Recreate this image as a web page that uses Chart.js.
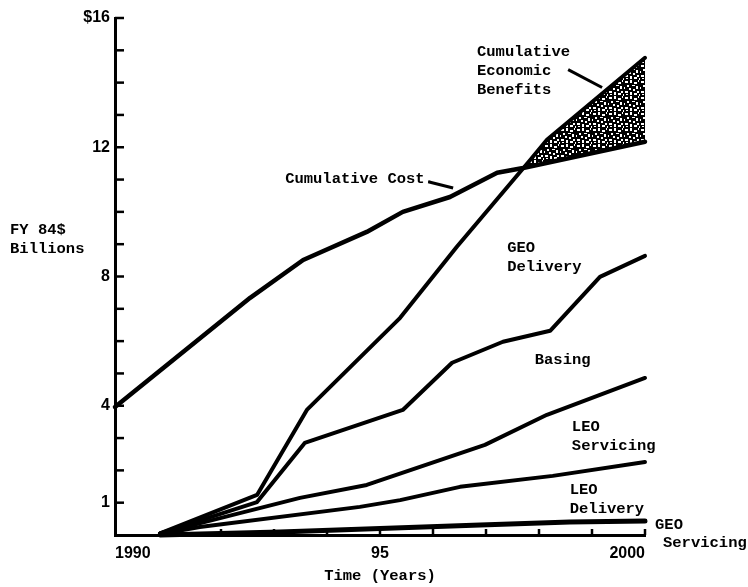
<!DOCTYPE html>
<html>
<head>
<meta charset="utf-8">
<script src="https://cdn.jsdelivr.net/npm/chart.js@4.4.0/dist/chart.umd.min.js"></script>
<style>
html, body { margin: 0; padding: 0; background: #fff; }
</style>
</head>
<body>
<canvas id="grafico" width="748" height="587"></canvas>
<script>
// valores: anos no eixo x, FY 84$ bilhoes no eixo y
var costYears     = [1990, 1992.55, 1993.55, 1994.75, 1995.43, 1996.32, 1997.21, 1997.7, 2000];
var costValues    = [3.96, 7.34, 8.51, 9.38, 10.0, 10.46, 11.21, 11.36, 12.17];

var benefitYears  = [1990.85, 1992.68, 1993.62, 1995.38, 1996.45, 1997.83, 1998.15, 2000];
var benefitValues = [0.05, 1.24, 3.87, 6.72, 8.92, 11.6, 12.23, 14.77];

var geoDelYears   = [1990.85, 1992.68, 1993.58, 1995.43, 1996.36, 1997.32, 1998.21, 1999.15, 2000];
var geoDelValues  = [0.05, 1.02, 2.85, 3.87, 5.33, 5.98, 6.32, 7.99, 8.64];

var basingYears   = [1990.85, 1993.49, 1994.75, 1996.98, 1998.15, 2000];
var basingValues  = [0.05, 1.15, 1.55, 2.79, 3.72, 4.86];

var leoSrvYears   = [1990.85, 1991.6, 1994.62, 1995.38, 1996.51, 1998.26, 2000];
var leoSrvValues  = [0.03, 0.25, 0.87, 1.08, 1.49, 1.83, 2.26];

var geoSrvYears   = [1990.85, 1993.11, 1996.89, 1998.58, 2000];
var geoSrvValues  = [0.0, 0.09, 0.31, 0.40, 0.43];

var xTickYears  = [1990, 1991, 1992, 1993, 1994, 1995, 1996, 1997, 1998, 1999, 2000];
var xTickLabels = {1990: '1990', 1995: '95', 2000: '2000'};
var yTickLabels = {1: '1', 4: '4', 8: '8', 12: '12', 16: '$16'};

// textos da figura (posicao em coordenadas de dados)
var rotulos = [
  {txt: ['Cumulative Cost.'], x: 1993.21, y: 11.02},
  {txt: ['Cumulative', 'Economic', 'Benefits'], x: 1996.83, y: 14.95},
  {txt: ['GEO', 'Delivery'], x: 1997.4, y: 8.89},
  {txt: ['Basing'], x: 1997.92, y: 5.42},
  {txt: ['LEO', 'Servicing'], x: 1998.62, y: 3.34},
  {txt: ['LEO', 'Delivery'], x: 1998.58, y: 1.39},
  {txt: ['GEO'], x: 2000.19, y: 0.31},
  {txt: ['Servicing'], x: 2000.34, y: -0.25},
  {txt: ['FY 84$', 'Billions'], x: 1988.02, y: 9.44}
];
var setas = [
  [1998.55, 14.4, 1999.19, 13.85],
  [1995.91, 10.93, 1996.38, 10.74]
];

function pontos(xs, ys) {
  var p = [];
  for (var i = 0; i < xs.length; i++) p.push({x: xs[i], y: ys[i]});
  return p;
}

var canvas = document.getElementById('grafico');
var ctx = canvas.getContext('2d');

// textura pontilhada da area de beneficios
function pontilhado() {
  var c = document.createElement('canvas');
  c.width = 16; c.height = 16;
  var g = c.getContext('2d');
  g.fillStyle = '#000';
  g.fillRect(0, 0, 16, 16);
  g.fillStyle = '#fff';
  var manchas = [
    [1,1,3,2],[6,0,2,3],[10,2,3,2],[14,0,1,2],
    [3,5,2,2],[8,5,3,1],[12,6,2,3],[0,7,1,2],
    [5,8,2,2],[9,9,2,2],[1,11,3,2],[13,11,2,2],
    [6,12,2,3],[10,13,3,2],[2,14,2,1],[15,14,1,2]
  ];
  manchas.forEach(function (m) { g.fillRect(m[0], m[1], m[2], m[3]); });
  return ctx.createPattern(c, 'repeat');
}

function linha(pts, w) {
  return {
    data: pts,
    borderColor: '#000',
    borderWidth: w,
    pointRadius: 0,
    tension: 0,
    fill: false,
    clip: false,
    borderJoinStyle: 'round',
    borderCapStyle: 'round'
  };
}

var dsCost = linha(pontos(costYears, costValues), 4.5);
var dsBen = linha(pontos(benefitYears, benefitValues), 4);
dsBen.fill = {target: 0, above: pontilhado(), below: 'rgba(0,0,0,0)'};

var extras = {
  id: 'extras',
  afterDraw: function (chart) {
    var c = chart.ctx, xs = chart.scales.x, ys = chart.scales.y;
    var a = chart.chartArea;
    c.save();
    c.strokeStyle = '#000';
    c.lineWidth = 2.5;
    // marcas para dentro
    for (var v = 1; v <= 16; v++) {
      var py = ys.getPixelForValue(v);
      c.beginPath(); c.moveTo(a.left, py); c.lineTo(a.left + 9, py); c.stroke();
    }
    xTickYears.forEach(function (yr) {
      if (yr === 1990) return;
      var px = xs.getPixelForValue(yr);
      c.beginPath(); c.moveTo(px, a.bottom); c.lineTo(px, a.bottom - 6); c.stroke();
    });
    c.lineWidth = 3;
    setas.forEach(function (s) {
      c.beginPath();
      c.moveTo(xs.getPixelForValue(s[0]), ys.getPixelForValue(s[1]));
      c.lineTo(xs.getPixelForValue(s[2]), ys.getPixelForValue(s[3]));
      c.stroke();
    });
    c.fillStyle = '#000';
    c.font = 'bold 15.5px "Liberation Mono"';
    c.textAlign = 'left';
    c.textBaseline = 'middle';
    rotulos.forEach(function (r) {
      var px = xs.getPixelForValue(r.x), py = ys.getPixelForValue(r.y);
      r.txt.forEach(function (t, i) { c.fillText(t, px, py + i * 19); });
    });
    c.restore();
  }
};

new Chart(canvas, {
  type: 'line',
  data: {
    datasets: [
      dsCost,
      dsBen,
      linha(pontos(geoDelYears, geoDelValues), 4),
      linha(pontos(basingYears, basingValues), 4),
      linha(pontos(leoSrvYears, leoSrvValues), 4),
      linha(pontos(geoSrvYears, geoSrvValues), 5)
    ]
  },
  options: {
    responsive: false,
    animation: false,
    layout: {padding: {left: 0, top: 18, right: 103, bottom: 0}},
    plugins: {legend: {display: false}, tooltip: {enabled: false}},
    scales: {
      x: {
        type: 'linear',
        min: 1990,
        max: 2000,
        afterBuildTicks: function (s) { s.ticks = xTickYears.map(function (v) { return {value: v}; }); },
        afterFit: function (s) { s.height = 52; },
        grid: {drawOnChartArea: false, drawTicks: false},
        border: {display: true, color: '#000', width: 3},
        ticks: {
          autoSkip: false,
          maxRotation: 0,
          align: 'inner',
          padding: 9,
          color: '#000',
          font: {family: '"Liberation Sans"', weight: 'bold', size: 16},
          callback: function (v) { return xTickLabels[v] || ''; }
        },
        title: {
          display: true,
          text: 'Time (Years)',
          color: '#000',
          font: {family: '"Liberation Mono"', weight: 'bold', size: 15.5},
          padding: {top: 0, bottom: 2}
        }
      },
      y: {
        min: 0,
        max: 16,
        afterBuildTicks: function (s) {
          s.ticks = [];
          for (var v = 0; v <= 16; v++) s.ticks.push({value: v});
        },
        afterFit: function (s) { s.width = 115; },
        grid: {drawOnChartArea: false, drawTicks: false},
        border: {display: true, color: '#000', width: 3},
        ticks: {
          autoSkip: false,
          padding: 5,
          color: '#000',
          font: {family: '"Liberation Sans"', weight: 'bold', size: 16},
          callback: function (v) { return yTickLabels[v] || ''; }
        }
      }
    }
  },
  plugins: [extras]
});
</script>
</body>
</html>
